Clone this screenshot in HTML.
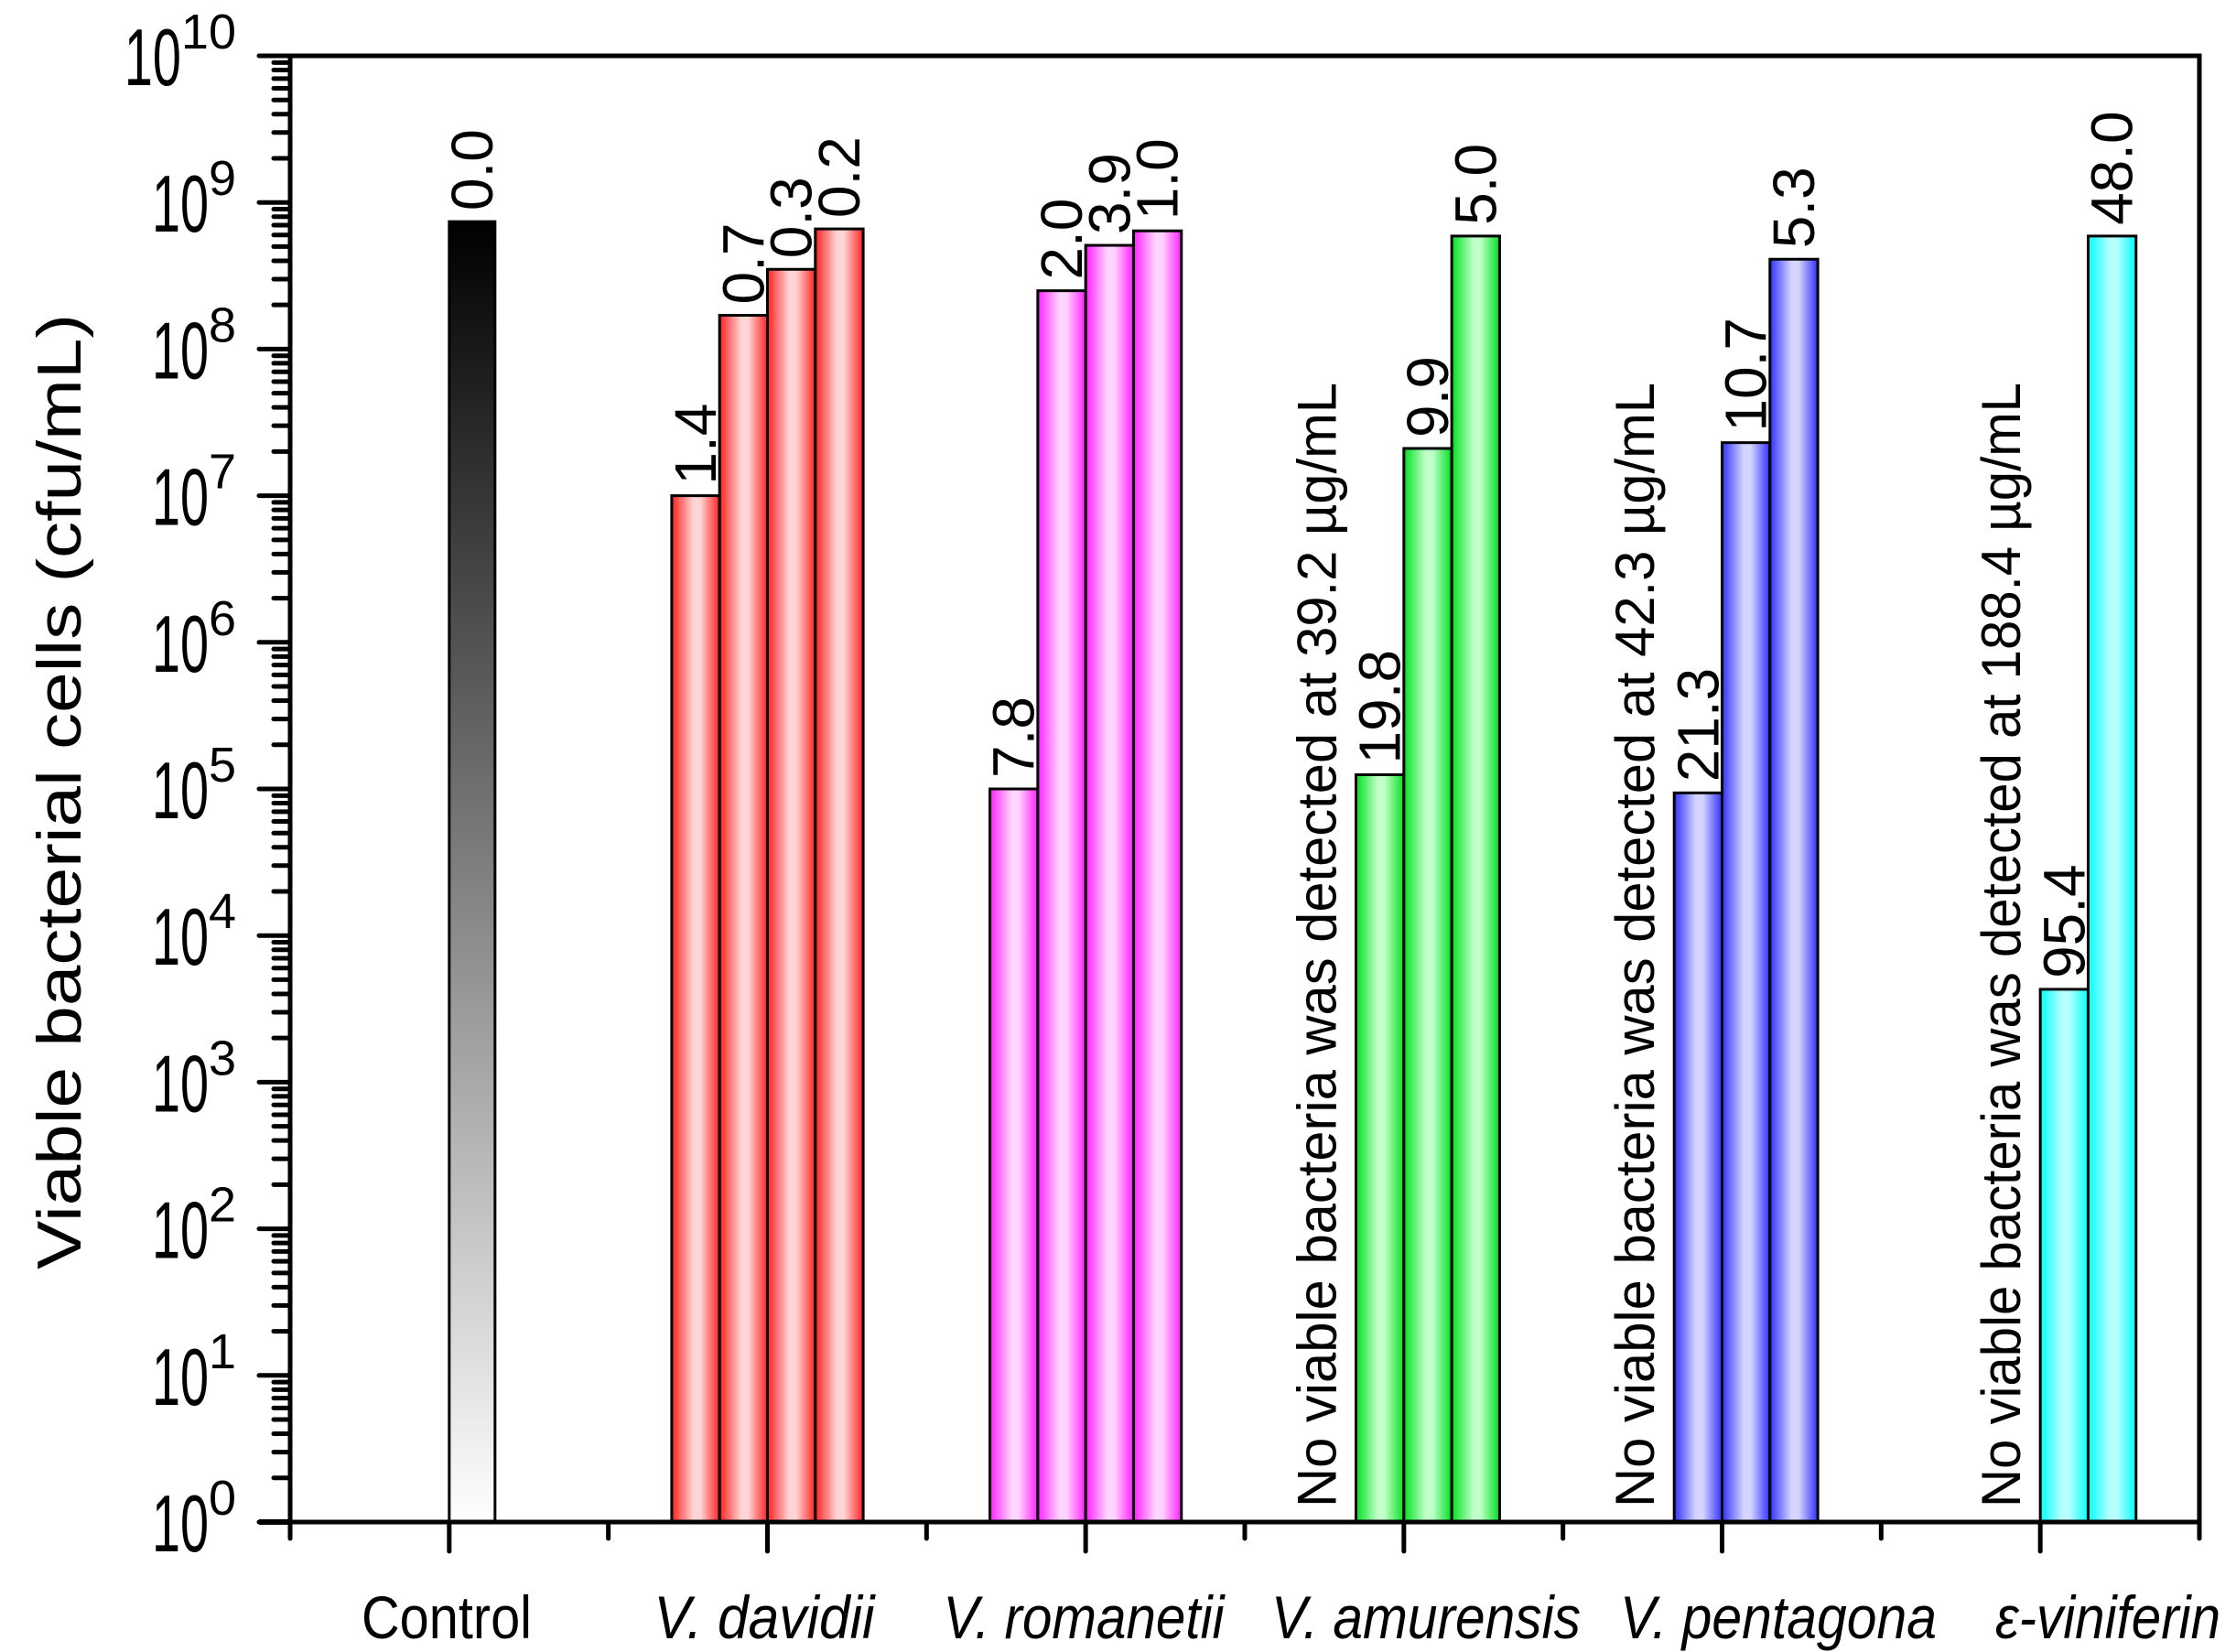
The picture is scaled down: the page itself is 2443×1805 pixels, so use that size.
<!DOCTYPE html>
<html><head><meta charset="utf-8"><style>
html,body{margin:0;padding:0;background:#fff}
svg{display:block}
text{font-family:"Liberation Sans",Arial,sans-serif;fill:#000}
</style></head><body>
<svg id="chart" width="2443" height="1805" viewBox="0 0 2443 1805" xmlns="http://www.w3.org/2000/svg">
<defs>
<linearGradient id="gControl" x1="0" y1="0" x2="0" y2="1"><stop offset="0" stop-color="#000"/><stop offset="1" stop-color="#fff"/></linearGradient>
<linearGradient id="gRed" x1="0" x2="1"><stop offset="0" stop-color="#ff2020"/><stop offset="0.45" stop-color="#ffd4d4"/><stop offset="0.6" stop-color="#ffd4d4"/><stop offset="1" stop-color="#ff2020"/></linearGradient>
<linearGradient id="gMag" x1="0" x2="1"><stop offset="0" stop-color="#ff20ff"/><stop offset="0.45" stop-color="#ffd4ff"/><stop offset="0.6" stop-color="#ffd4ff"/><stop offset="1" stop-color="#ff20ff"/></linearGradient>
<linearGradient id="gGreen" x1="0" x2="1"><stop offset="0" stop-color="#00e020"/><stop offset="0.45" stop-color="#c0ffc8"/><stop offset="0.6" stop-color="#c0ffc8"/><stop offset="1" stop-color="#00e020"/></linearGradient>
<linearGradient id="gBlue" x1="0" x2="1"><stop offset="0" stop-color="#3030ff"/><stop offset="0.45" stop-color="#d4d4ff"/><stop offset="0.6" stop-color="#d4d4ff"/><stop offset="1" stop-color="#3030ff"/></linearGradient>
<linearGradient id="gCyan" x1="0" x2="1"><stop offset="0" stop-color="#00ffff"/><stop offset="0.45" stop-color="#b8ffff"/><stop offset="0.6" stop-color="#b8ffff"/><stop offset="1" stop-color="#00ffff"/></linearGradient>
</defs>
<g id="bars"></g>
<g id="labels"></g>
<g id="axes"></g>
<text transform="translate(88,865) rotate(-90)" text-anchor="middle" font-size="68" textLength="1044" lengthAdjust="spacingAndGlyphs">Viable bacterial cells (cfu/mL)</text>
</svg>
<script>
const categories = ["Control","V. davidii","V. romanetii","V. amurensis","V. pentagona","ε-viniferin"];
const controlValues = [7.4e8];
const davidiiValues = [1.0e7,1.7e8,3.5e8,6.6e8];
const romanetiiValues = [1.0e5,2.5e8,5.1e8,6.4e8];
const amurensisValues = [1.25e5,2.1e7,5.9e8];
const pentagonaValues = [9.4e4,2.3e7,4.1e8];
const viniferinValues = [4.3e3,5.9e8];
const controlLabels = ["0.0"];
const davidiiLabels = ["1.4","0.7","0.3","0.2"];
const romanetiiLabels = ["7.8","2.0","3.9","1.0"];
const amurensisLabels = ["19.8","9.9","5.0"];
const pentagonaLabels = ["21.3","10.7","5.3"];
const viniferinLabels = ["95.4","48.0"];
const noViableNotes = ["","","","No viable bacteria was detected at 39.2 µg/mL","No viable bacteria was detected at 42.3 µg/mL","No viable bacteria was detected at 188.4 µg/mL"];
const yTickExponents = [0,1,2,3,4,5,6,7,8,9,10];

const NS="http://www.w3.org/2000/svg";
const L=317,R=2403,T=61,B=1663, slotW=52.3;
const yLog0=0,yLog1=10;
function y(v){return B-(Math.log10(v)-yLog0)/(yLog1-yLog0)*(B-T);}
function xc(i){return L+(i+0.5)/categories.length*(R-L);}
function mk(tag,attrs,parent){const e=document.createElementNS(NS,tag);for(const k in attrs)e.setAttribute(k,attrs[k]);parent.appendChild(e);return e;}

const groups=[
 {vals:controlValues,labs:controlLabels,start:0,fill:"url(#gControl)",w:50},
 {vals:davidiiValues,labs:davidiiLabels,start:-2,fill:"url(#gRed)"},
 {vals:romanetiiValues,labs:romanetiiLabels,start:-2,fill:"url(#gMag)"},
 {vals:amurensisValues,labs:amurensisLabels,start:-1,fill:"url(#gGreen)"},
 {vals:pentagonaValues,labs:pentagonaLabels,start:-1,fill:"url(#gBlue)"},
 {vals:viniferinValues,labs:viniferinLabels,start:0,fill:"url(#gCyan)"}];
const gb=document.getElementById('bars'), gl=document.getElementById('labels'), ga=document.getElementById('axes');
groups.forEach((g,gi)=>{
  g.vals.forEach((v,j)=>{
    const w=g.w||slotW;
    const x0=xc(gi)+(g.start+j)*slotW;
    const r=mk('rect',{x:x0,y:y(v),width:w,height:B-y(v),fill:g.fill,stroke:"#000","stroke-width":3},gb);
    
    
    const tx=x0+w/2+22, ty=y(v)-12;
    const t=mk('text',{transform:`translate(${tx},${ty}) rotate(-90)`,"font-size":64},gl);
    t.textContent=g.labs[j];
    
    
  });
  if(noViableNotes[gi]){
    const t=mk('text',{transform:`translate(${xc(gi)+(g.start)*slotW-22},1647) rotate(-90)`,"font-size":60,textLength:1229,lengthAdjust:"spacingAndGlyphs"},gl);
    t.textContent=noViableNotes[gi];
    
    
  }
});
const fr=mk('rect',{x:L,y:T,width:R-L,height:B-T,fill:"none",stroke:"#000","stroke-width":5},ga);


yTickExponents.forEach(e=>{
  const yy=y(Math.pow(10,e));
  mk('line',{x1:L-34,x2:L,y1:yy,y2:yy,stroke:"#000","stroke-width":5,"stroke-linecap":"round"},ga);
  if(e<10){for(let k=2;k<=9;k++){const ym=y(k*Math.pow(10,e));mk('line',{x1:L-18,x2:L,y1:ym,y2:ym,stroke:"#000","stroke-width":5,"stroke-linecap":"round"},ga);}}
  const t=mk('text',{x:258,y:yy+32,"text-anchor":"end","font-size":88},ga);
  
  
  const a=mk('tspan',{textLength:62,lengthAdjust:"spacingAndGlyphs"},t);a.textContent="10";
  const s=mk('tspan',{"font-size":54,dy:-40},t);s.textContent=String(e);
});
for(let i=0;i<=categories.length;i++){
  const xm=L+i/categories.length*(R-L);
  mk('line',{x1:xm,x2:xm,y1:B,y2:B+18,stroke:"#000","stroke-width":5,"stroke-linecap":"round"},ga);
}
mk('line',{x1:283,x2:L,y1:B,y2:B,stroke:"#000","stroke-width":6},ga);
const xLens=[186,241,307,338,346,246];
const xCent=[488,835,1184,1558,1943,2303];
categories.forEach((c,i)=>{
  mk('line',{x1:xc(i),x2:xc(i),y1:B,y2:B+32,stroke:"#000","stroke-width":5,"stroke-linecap":"round"},ga);
  const t=mk('text',{x:xCent[i],y:1790,"text-anchor":"middle","font-size":66,textLength:xLens[i],lengthAdjust:"spacingAndGlyphs"},ga);
  if(i>0)t.setAttribute('font-style','italic');
  t.textContent=c;
  
  
});
</script>
</body></html>
